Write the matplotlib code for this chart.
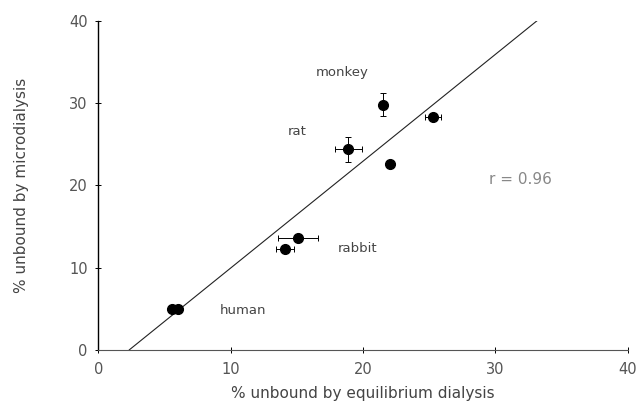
import matplotlib
matplotlib.use("Agg")
import matplotlib.pyplot as plt
import numpy as np

# data
x_equil = [5.6, 6.0, 14.1, 15.1, 18.9, 21.5, 22.0, 25.3]
y_micro = [5.0, 5.0, 12.3, 13.6, 24.4, 29.8, 22.6, 28.3]
x_err = [0.0, 0.0, 0.65, 1.5, 1.0, 0.0, 0.0, 0.6]
y_err = [0.0, 0.0, 0.3, 0.0, 1.5, 1.4, 0.0, 0.0]
species = ["human", "rabbit", "rat", "monkey"]
species_pos = [(9.2, 4.8), (18.1, 12.3), (14.3, 26.5), (16.4, 33.7)]
fit_slope = 1.30
fit_intercept = -3.05
fit_range = [2.35, 33.2]
r_text = "r = 0.96"
xticks = [0, 10, 20, 30, 40]
yticks = [0, 10, 20, 30, 40]

plt.rcParams['font.family'] = ['DejaVu Sans']
fig = plt.figure(figsize=(6.42, 4.04), dpi=100)
ax = fig.add_axes([0.153, 0.134, 0.825, 0.814])

fx = np.array(fit_range)
ax.plot(fx, fit_slope * fx + fit_intercept, color='#222222', lw=0.8, zorder=2)

ax.errorbar(x_equil, y_micro,
            xerr=[e if e > 0 else np.nan for e in x_err],
            yerr=[e if e > 0 else np.nan for e in y_err],
            fmt='o', color='black', ms=7, elinewidth=0.7, capsize=2,
            capthick=0.7, zorder=3)

for name, (tx, ty) in zip(species, species_pos):
    ax.text(tx, ty, name, fontsize=9.5, color='#444444', ha='left', va='center')

ax.text(29.5, 20.7, r_text, fontsize=11, color='#888888', ha='left', va='center')

ax.set_xlim(0, 40)
ax.set_ylim(0, 40)
ax.set_xticks(xticks)
ax.set_yticks(yticks)
ax.spines['top'].set_visible(False)
ax.spines['right'].set_visible(False)
ax.spines['left'].set_linewidth(1.0)
ax.spines['bottom'].set_linewidth(0.8)
ax.spines['bottom'].set_color('#555555')
ax.tick_params(direction='inout', length=5, width=0.7, labelsize=10.5,
               labelcolor='#555555')
ax.tick_params(axis='x', pad=6)
ax.tick_params(axis='y', pad=5)
ax.set_xlabel('% unbound by equilibrium dialysis', fontsize=11, color='#444444', labelpad=7)
ax.set_ylabel('% unbound by microdialysis', fontsize=11, color='#444444', labelpad=29)

fig.savefig('out.png', dpi=100)
